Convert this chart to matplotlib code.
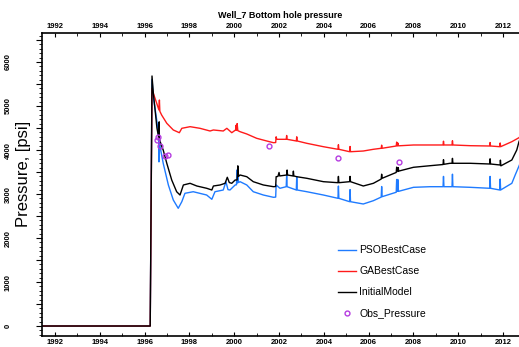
import numpy as np
import matplotlib.pyplot as plt
from matplotlib.ticker import MultipleLocator, FuncFormatter

plt.rcParams['font.family'] = ['Liberation Sans', 'DejaVu Sans']

# simulated bottom hole pressure, (decimal year, psi)
pso_t = [1991.0, 1996.25, 1996.33, 1996.39, 1996.54, 1996.63, 1996.64, 1996.65, 1996.69,
         1996.83, 1997.06, 1997.28, 1997.50, 1997.66, 1997.80, 1998.17, 1998.77, 1999.0,
         1999.14, 1999.51, 1999.63, 1999.72, 1999.81, 2000.04, 2000.10, 2000.12, 2000.14,
         2000.16, 2000.19, 2000.26, 2000.56, 2000.85, 2001.30, 2001.75, 2001.85, 2001.87,
         2002.04, 2002.32, 2002.34, 2002.36, 2002.77, 2002.79, 2002.81, 2003.24, 2003.98,
         2004.63, 2004.65, 2004.67, 2005.15, 2005.17, 2005.19, 2005.76, 2006.21, 2006.56,
         2006.58, 2006.60, 2007.23, 2007.25, 2007.28, 2007.30, 2007.33, 2008.0, 2008.74,
         2009.32, 2009.34, 2009.36, 2009.72, 2009.74, 2009.76, 2010.53, 2011.40, 2011.42,
         2011.44, 2011.85, 2011.87, 2011.89, 2012.39, 2012.54, 2012.71, 2012.8]
pso_p = [0, 0, 5600, 5211, 4682, 4300, 3730, 4250, 4075,
         3698, 3205, 2864, 2675, 2825, 3016, 3052, 2977, 2880,
         3052, 3091, 3280, 3100, 3091, 3205, 3210, 3545, 3250,
         3480, 3260, 3280, 3205, 3052, 2977, 2925, 2930, 3205,
         3130, 3166, 3420, 3166, 3091, 3390, 3091, 3052, 2977,
         2902, 3180, 2902, 2825, 3100, 2825, 2773, 2848, 2930,
         3170, 2939, 3040, 3330, 3060, 3330, 3060, 3152, 3166,
         3166, 3400, 3166, 3166, 3450, 3166, 3152, 3130, 3400,
         3130, 3091, 3340, 3091, 3243, 3432, 3636, 3750]

ga_t = [1991.0, 1996.25, 1996.33, 1996.39, 1996.54, 1996.64, 1996.66, 1996.68, 1996.76,
        1996.99, 1997.28, 1997.55, 1997.66, 1998.03, 1998.47, 1998.92, 1999.07, 1999.51,
        1999.67, 1999.89, 2000.06, 2000.08, 2000.10, 2000.13, 2000.16, 2000.26, 2000.56,
        2001.00, 2001.45, 2001.75, 2001.85, 2001.87, 2001.90, 2002.32, 2002.34, 2002.36,
        2002.77, 2002.79, 2002.81, 2003.24, 2003.98, 2004.63, 2004.65, 2004.67, 2005.15,
        2005.17, 2005.19, 2005.76, 2006.21, 2006.56, 2006.58, 2006.60, 2007.23, 2007.25,
        2007.28, 2007.30, 2007.33, 2008.0, 2008.74, 2009.32, 2009.34, 2009.36, 2009.72,
        2009.74, 2009.76, 2010.53, 2011.40, 2011.42, 2011.44, 2011.85, 2011.87, 2011.89,
        2012.39, 2012.71, 2012.8]
ga_p = [0, 0, 5400, 5289, 5061, 4909, 5136, 4880, 4795,
        4607, 4455, 4393, 4493, 4530, 4493, 4432, 4455, 4432,
        4493, 4393, 4455, 4560, 4450, 4600, 4440, 4416, 4364,
        4266, 4205, 4166, 4170, 4300, 4243, 4243, 4330, 4243,
        4205, 4300, 4205, 4152, 4075, 4016, 4120, 4016, 3961,
        4080, 3961, 3977, 4016, 4039, 4110, 4039, 4091, 4180,
        4091, 4160, 4095, 4114, 4114, 4114, 4200, 4114, 4114,
        4210, 4114, 4098, 4091, 4170, 4091, 4075, 4160, 4075,
        4189, 4280, 4330]

init_t = [1991.0, 1996.25, 1996.33, 1996.39, 1996.55, 1996.64, 1996.65, 1996.66, 1996.75,
          1996.83, 1996.99, 1997.21, 1997.43, 1997.58, 1997.73, 1998.03, 1998.33, 1998.77,
          1999.0, 1999.07, 1999.37, 1999.59, 1999.69, 1999.78, 1999.89, 2000.04, 2000.13,
          2000.16, 2000.19, 2000.26, 2000.56, 2000.85, 2001.30, 2001.75, 2001.85, 2001.87,
          2001.95, 2002.00, 2002.03, 2002.34, 2002.36, 2002.38, 2002.62, 2002.64, 2002.66,
          2002.79, 2003.24, 2003.98, 2004.63, 2004.65, 2004.67, 2005.15, 2005.17, 2005.19,
          2005.76, 2006.21, 2006.56, 2006.58, 2006.60, 2007.23, 2007.25, 2007.30, 2007.32,
          2007.34, 2008.0, 2008.74, 2009.32, 2009.34, 2009.36, 2009.63, 2009.72, 2009.74,
          2009.76, 2010.53, 2011.40, 2011.42, 2011.44, 2011.87, 2011.88, 2011.90, 2012.39,
          2012.61, 2012.71, 2012.8]
init_p = [0, 0, 5682, 5289, 4500, 4250, 4640, 4250, 4100,
          4000, 3698, 3318, 3052, 2977, 3205, 3243, 3182, 3130,
          3091, 3182, 3205, 3243, 3380, 3260, 3243, 3318, 3320,
          3640, 3400, 3432, 3393, 3280, 3205, 3166, 3170, 3393,
          3400, 3490, 3410, 3432, 3545, 3432, 3410, 3520, 3410,
          3393, 3357, 3280, 3257, 3400, 3257, 3280, 3400, 3280,
          3182, 3243, 3340, 3450, 3357, 3490, 3610, 3510, 3600,
          3520, 3607, 3643, 3670, 3780, 3675, 3698, 3698, 3810,
          3698, 3698, 3682, 3800, 3682, 3659, 3770, 3640, 3773,
          4000, 4189, 4300]

obs_t = [1996.57, 1996.61, 1996.69, 1996.91, 1997.06, 2001.57, 2004.62, 2007.36]
obs_p = [4227, 4295, 4091, 3870, 3886, 4091, 3818, 3734]

fig = plt.figure(figsize=(5.19, 3.47), dpi=100)
ax = fig.add_axes([42/519, 1-336/347, 477/519, 303/347])

ax.plot(pso_t, pso_p, color='#1f7bff', lw=1.0, label='PSOBestCase')
ax.plot(ga_t, ga_p, color='#ff1a1a', lw=1.0, label='GABestCase')
ax.plot(init_t, init_p, color='black', lw=1.0, label='InitialModel')
ax.plot(obs_t, obs_p, 'o', ls='none', mfc='none', mec='#b53be0', ms=3.5, mew=1.0,
        label='Obs_Pressure')

ax.set_xlim(1991.42, 2012.71)
ax.set_ylim(-227, 6659)

ax.xaxis.set_major_locator(MultipleLocator(2))
ax.xaxis.set_minor_locator(MultipleLocator(1))
ax.xaxis.set_major_formatter(FuncFormatter(lambda v, p: '%d' % round(v)))
ax.xaxis.set_ticks_position('both')
ax.tick_params(axis='x', which='both', direction='in', labeltop=True, labelbottom=True,
               labelsize=5.5, pad=2)
ax.tick_params(axis='x', which='major', length=3)
ax.tick_params(axis='x', which='minor', length=2)
for lab in ax.get_xticklabels():
    lab.set_fontweight('bold')

ax.yaxis.set_major_locator(MultipleLocator(500))
ax.yaxis.set_minor_locator(MultipleLocator(100))
ax.yaxis.set_major_formatter(FuncFormatter(lambda v, p: '%d' % v if v % 1000 == 0 else ''))
ax.tick_params(axis='y', which='both', direction='out', labelsize=5.5, pad=18)
ax.tick_params(axis='y', which='major', length=4)
ax.tick_params(axis='y', which='minor', length=2)
for lab in ax.get_yticklabels():
    lab.set_rotation(90)
    lab.set_va('center')
    lab.set_fontweight('bold')

ax.spines['right'].set_visible(False)
for s in ['top', 'left', 'bottom']:
    ax.spines[s].set_linewidth(1.2)

fig.text(280/519, 1-15/347, 'Well_7 Bottom hole pressure', ha='center', va='center',
         fontsize=6.5, fontweight='bold')
fig.text(24/519, 1-174/347, 'Pressure, [psi]', rotation=90, ha='center', va='center',
         fontsize=12)

ax.legend(loc='upper left', bbox_to_anchor=(329/519, 1-236/347), bbox_transform=fig.transFigure,
          frameon=False, fontsize=7.5, handlelength=1.7, labelspacing=1.05,
          handletextpad=0.3, numpoints=1)

fig.savefig('out.png', dpi=100)
